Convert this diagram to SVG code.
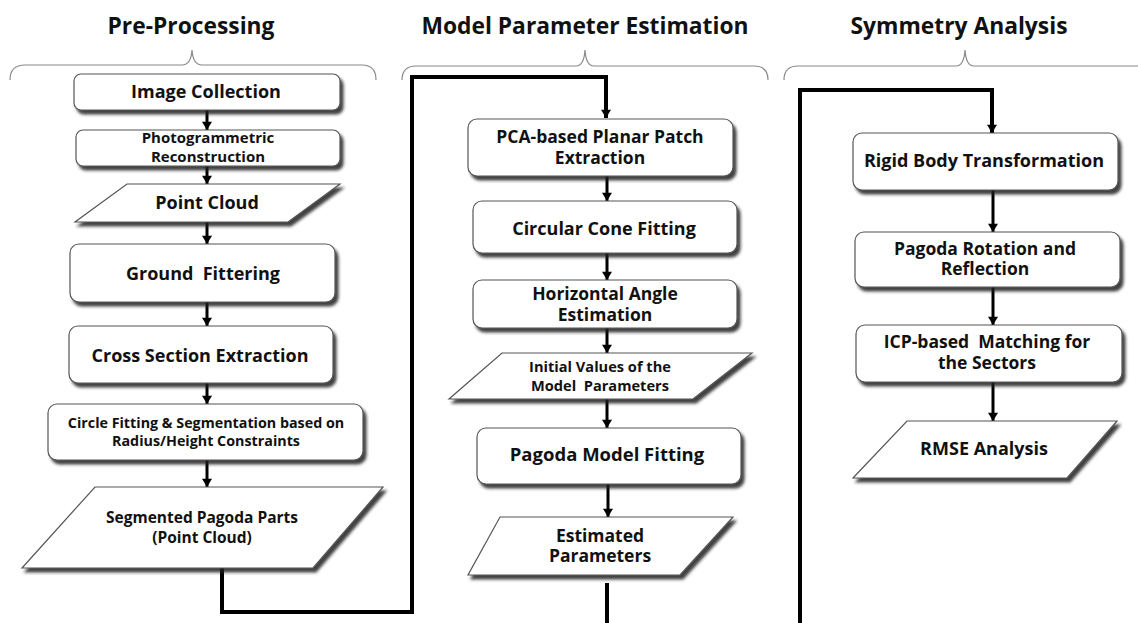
<svg xmlns="http://www.w3.org/2000/svg" width="1138" height="623" viewBox="0 0 1138 623">
<style>
.t{font-family:"Open Sans","Liberation Sans",sans-serif;font-weight:700;fill:#111;text-anchor:middle}
.title{font-size:22.8px}
.n{font-size:18px}
.m{font-size:17.5px}
.s{font-size:15px}
.box{fill:#fff;stroke:#555;stroke-width:1.2;filter:url(#sh)}
.brace{fill:none;stroke:#888;stroke-width:1.2}
.c{fill:none;stroke:#000;stroke-width:3}
.cl{fill:none;stroke:#000;stroke-width:4}
</style>
<defs>
<filter id="sh" x="-10%" y="-20%" width="125%" height="150%">
<feDropShadow dx="3" dy="4" stdDeviation="1.6" flood-color="#222" flood-opacity="0.85"/>
</filter>
<marker id="av" markerWidth="12" markerHeight="10" refX="10" refY="6" orient="auto" markerUnits="userSpaceOnUse" viewBox="0 0 10 12">
<path d="M0,0 L10,6 L0,12 Z" fill="#000"/>
</marker>
</defs>

<g id="titles">
<text class="t title" x="191" y="34">Pre-Processing</text>
<text class="t title" x="585" y="34">Model Parameter Estimation</text>
<text class="t title" x="959" y="34">Symmetry Analysis</text>
</g>
<g id="braces">
<path class="brace" d="M10,80 Q10,65 25,65 L182,65 Q191,65 192,50 Q193,65 202,65 L362,65 Q376,65 376,80"/>
<path class="brace" d="M402,80 Q402,66 416,66 L576,66 Q584,66 585,50 Q586,66 594,66 L754,66 Q768,66 768,80"/>
<path class="brace" d="M784,80 Q784,66 798,66 L956,66 Q964,66 965,50 Q966,66 974,66 L1138,66"/>
</g>

<g id="connectors">
<path class="c" d="M207,110 V130" marker-end="url(#av)"/>
<path class="c" d="M207,166 V184" marker-end="url(#av)"/>
<path class="c" d="M207,222 V244" marker-end="url(#av)"/>
<path class="c" d="M207,302 V326" marker-end="url(#av)"/>
<path class="c" d="M207,383 V404" marker-end="url(#av)"/>
<path class="c" d="M207,460 V487" marker-end="url(#av)"/>
<path class="cl" d="M222,568 V612 H412 V77 H606 V118" marker-end="url(#av)"/>
<path class="c" d="M607,176 V201" marker-end="url(#av)"/>
<path class="c" d="M607,253 V280" marker-end="url(#av)"/>
<path class="c" d="M607,328 V353" marker-end="url(#av)"/>
<path class="c" d="M607,399 V428" marker-end="url(#av)"/>
<path class="c" d="M608,484 V517" marker-end="url(#av)"/>
<path class="cl" d="M607,583 V623"/>
<path class="cl" d="M800,623 V90 H992 V133" marker-end="url(#av)"/>
<path class="c" d="M993,190 V232" marker-end="url(#av)"/>
<path class="c" d="M993,287 V325" marker-end="url(#av)"/>
<path class="c" d="M993,382 V421" marker-end="url(#av)"/>
</g>

<g id="n-image-collection">
<rect class="box" x="74" y="74" width="266" height="36" rx="7"/>
<text class="t n" x="206" y="98">Image Collection</text>
</g>
<g id="n-photogrammetric">
<rect class="box" x="76" y="130" width="264" height="36" rx="7"/>
<text class="t s" x="208" y="143">Photogrammetric<tspan x="208" dy="19">Reconstruction</tspan></text>
</g>
<g id="n-point-cloud">
<polygon class="box" points="127,184 340,184 288,222 75,222"/>
<text class="t n" x="207" y="209">Point Cloud</text>
</g>
<g id="n-ground">
<rect class="box" x="70" y="244" width="265" height="58" rx="9"/>
<text class="t n" x="203" y="280" xml:space="preserve">Ground  Fittering</text>
</g>
<g id="n-cross">
<rect class="box" x="69" y="326" width="264" height="57" rx="9"/>
<text class="t n" x="200" y="362">Cross Section Extraction</text>
</g>
<g id="n-circle">
<rect class="box" x="48" y="404" width="315" height="56" rx="9"/>
<text class="t s" x="206" y="428" style="font-size:14.3px">Circle Fitting &amp; Segmentation based on<tspan x="206" dy="18">Radius/Height Constraints</tspan></text>
</g>
<g id="n-segmented">
<polygon class="box" points="95,487 383,487 313,568 22,568"/>
<text class="t s" x="202" y="523" style="font-size:15.5px">Segmented Pagoda Parts<tspan x="202" dy="20">(Point Cloud)</tspan></text>
</g>

<g id="n-pca">
<rect class="box" x="468" y="119" width="265" height="57" rx="9"/>
<text class="t m" x="600" y="143">PCA-based Planar Patch<tspan x="600" dy="21">Extraction</tspan></text>
</g>
<g id="n-cone">
<rect class="box" x="473" y="201" width="264" height="52" rx="9"/>
<text class="t n" x="604" y="235">Circular Cone Fitting</text>
</g>
<g id="n-horizontal">
<rect class="box" x="473" y="280" width="264" height="48" rx="9"/>
<text class="t m" x="605" y="300">Horizontal Angle<tspan x="605" dy="21">Estimation</tspan></text>
</g>
<g id="n-initial">
<polygon class="box" points="502,353 752,353 693,399 449,399"/>
<text class="t s" x="600" y="372" style="font-size:14.6px" xml:space="preserve">Initial Values of the<tspan x="600" dy="19">Model  Parameters</tspan></text>
</g>
<g id="n-pagoda-fit">
<rect class="box" x="477" y="428" width="264" height="56" rx="9"/>
<text class="t n" x="607" y="461" style="font-size:18.5px">Pagoda Model Fitting</text>
</g>
<g id="n-estimated">
<polygon class="box" points="500,517 733,517 680,575 468,575"/>
<text class="t m" x="600" y="542">Estimated<tspan x="600" dy="20">Parameters</tspan></text>
</g>

<g id="n-rigid">
<rect class="box" x="853" y="133" width="265" height="57" rx="9"/>
<text class="t n" x="984" y="167">Rigid Body Transformation</text>
</g>
<g id="n-rotation">
<rect class="box" x="855" y="232" width="265" height="55" rx="9"/>
<text class="t m" x="985" y="255">Pagoda Rotation and<tspan x="985" dy="20">Reflection</tspan></text>
</g>
<g id="n-icp">
<rect class="box" x="856" y="325" width="266" height="57" rx="9"/>
<text class="t m" x="987" y="348" xml:space="preserve">ICP-based  Matching for<tspan x="987" dy="21">the Sectors</tspan></text>
</g>
<g id="n-rmse">
<polygon class="box" points="907,421 1117,421 1067,478 853,478"/>
<text class="t n" x="984" y="455">RMSE Analysis</text>
</g>
</svg>
